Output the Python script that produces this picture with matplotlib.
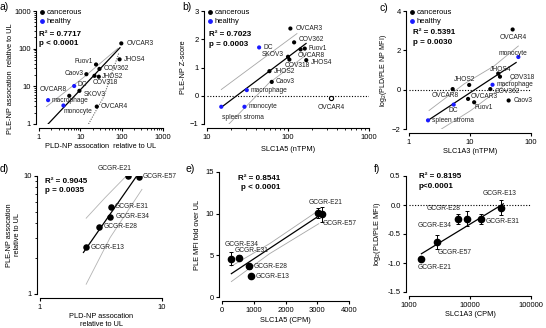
import matplotlib
matplotlib.use("Agg")
import matplotlib.pyplot as plt
from matplotlib.ticker import NullLocator, LogLocator, NullFormatter

plt.rcParams['font.family'] = ['Liberation Sans', 'DejaVu Sans']
plt.rcParams['mathtext.default'] = 'regular'
plt.rcParams['font.size'] = 5.5

# ---- panel a: PLD-NP vs PLE-NP association (cell lines) ----
a_names = ["OVCAR3", "JHOS4", "Fuov1", "COV362", "Caov3", "COV318", "JHOS2",
           "DC", "SKOV3", "OVCAR8", "macrophage", "monocyte", "OVCAR4"]
a_x = [98, 89, 24, 29, 14, 22, 28, 7.1, 9.5, 5.4, 1.66, 3.9, 25]
a_y = [138, 52, 38, 29, 21, 19, 18, 10.2, 7.6, 5.6, 4.3, 3.1, 2.9]
a_healthy = [False, False, False, False, False, False, False, True, False, False, True, True, False]
a_fit_x = [1.66, 91]
a_fit_y = [1.0, 106]
a_up_x = [1.51, 12, 81]
a_up_y = [2.89, 17.3, 102]
a_lo_x = [15.8, 36.9, 86]
a_lo_y = [1.0, 5.3, 78]

# ---- panel b: SLC1A5 vs PLE-NP Z-score ----
b_names = ["OVCAR3", "COV362", "Fuov1", "OVCAR8", "DC", "SKOV3", "COV318", "JHOS4",
           "JHOS2", "Caov3", "macrophage", "OVCAR4", "spleen stroma", "monocyte"]
b_x = [107, 119, 161, 143, 44, 100, 104, 168, 59, 63, 31, 339, 15, 29]
b_y = [2.38, 1.89, 1.67, 1.64, 1.71, 1.38, 1.28, 1.26, 0.87, 0.49, 0.20, -0.09, -0.39, -0.39]
b_healthy = [False, False, False, False, True, False, False, False, False, False, True, False, True, True]
b_fit_x = [15, 167]
b_fit_y = [-0.41, 1.85]
b_up_x = [15, 43.4, 129]
b_up_y = [0.22, 1.2, 2.2]
b_lo_x = [18.5, 57.7, 176]
b_lo_y = [-1.01, 0.44, 1.49]

# ---- panel c: SLC1A3 vs log2(PLD/PLE) ----
c_names = ["OVCAR4", "monocyte", "JHOS4", "COV318", "JHOS2", "macrophage", "OVCAR8",
           "COV362", "OVCAR3", "Fuov1", "Caov3", "DC", "spleen stroma"]
c_x = [50, 62, 29, 31, 9.7, 23.4, 5.2, 21.5, 9.3, 11.7, 43, 5.4, 2.05]
c_y = [3.06, 1.66, 0.82, 0.66, 0.24, 0.25, 0.03, 0.03, -0.47, -0.64, -0.55, -0.76, -1.56]
c_healthy = [False, True, False, False, False, True, False, False, False, False, False, True, True]
c_fit_x = [2.05, 57]
c_fit_y = [-1.56, 1.38]
c_up_x = [2.13, 8.0, 25, 62]
c_up_y = [-1.06, 0.29, 1.21, 2.22]
c_lo_x = [3.4, 10.3, 28, 62]
c_lo_y = [-2.0, -1.06, -0.05, 0.76]

# ---- panel d/e/f: GCGR lines ----
d_names = ["GCGR-E21", "GCGR-E57", "GCGR-E31", "GCGR-E34", "GCGR-E28", "GCGR-E13"]
d_x = [5.25, 6.43, 3.81, 3.76, 3.07, 2.39]
d_y = [10.0, 9.9, 5.5, 4.53, 3.71, 2.48]
d_fit_x = [2.27, 6.15]
d_fit_y = [2.25, 9.87]
d_up_x = [2.39, 3.42, 5.0]
d_up_y = [4.39, 6.56, 9.8]
d_lo_x = [2.39, 3.76, 6.85]
d_lo_y = [1.21, 3.01, 7.7]

e_names = ["GCGR-E21", "GCGR-E57", "GCGR-E34", "GCGR-E31", "GCGR-E28", "GCGR-E13"]
e_x = [3028, 3155, 284, 536, 842, 915]
e_y = [10.13, 9.93, 4.6, 4.73, 3.68, 2.48]
e_err = [0.6, 0.9, 0.75, 0.3, 0.3, 0.2]
e_fit_x = [295, 3050]
e_fit_y = [2.8, 9.73]
e_up_x = [295, 1500, 3050]
e_up_y = [3.7, 6.4, 10.4]
e_lo_x = [295, 1500, 3050]
e_lo_y = [1.85, 5.2, 8.8]

f_names = ["GCGR-E13", "GCGR-E31", "GCGR-E28", "GCGR-E34", "GCGR-E57", "GCGR-E21"]
f_x = [32600, 15000, 9040, 6350, 2910, 1600]
f_y = [-0.05, -0.24, -0.24, -0.24, -0.63, -0.93]
f_err = [0.13, 0.09, 0.13, 0.09, 0.12, 0.04]
f_fit_x = [1600, 35200]
f_fit_y = [-0.84, 0.02]

W, H = 546, 328
LAB = 5.3
fig = plt.figure(figsize=(W / 100, H / 100), dpi=100)


def add_ax(x0, x1, ytop, ybot):
    ax = fig.add_axes([x0 / W, (H - ybot) / H, (x1 - x0) / W, (ybot - ytop) / H])
    for s in ['top', 'right']:
        ax.spines[s].set_visible(False)
    ax.spines['left'].set_position(('outward', 2))
    ax.spines['bottom'].set_position(('outward', 3))
    for s in ['left', 'bottom']:
        ax.spines[s].set_linewidth(0.8)
    ax.tick_params(width=0.8, length=2.5, labelsize=5.5, pad=1.5)
    ax.tick_params(which='minor', width=0.6, length=1.5)
    return ax


def ftext(x, y, s, **kw):
    fig.text(x / W, 1 - y / H, s, va='center', **kw)


def labels(ax, xs, ys, names, offs, size=4.8):
    for x, y, n, (dx, dy, ha) in zip(xs, ys, names, offs):
        ax.annotate(n, (x, y), xytext=(dx * 0.72, dy * 0.72), textcoords='offset points',
                    ha=ha, va='center', fontsize=size, color='#222222')


def legend(ax):
    h1 = ax.scatter([], [], s=6, color='black', label='cancerous')
    h2 = ax.scatter([], [], s=6, color='#1a1aff', label='healthy')
    ax.legend(handles=[h1, h2], loc='upper left', frameon=False, fontsize=5.5,
              handlelength=0.6, handletextpad=0.3, borderaxespad=0.0,
              borderpad=0.1, labelspacing=0.3, bbox_to_anchor=(0.0, 1.03))


def dots(ax, xs, ys, healthy):
    cols = ['#1a1aff' if h else 'black' for h in healthy]
    ax.scatter(xs, ys, s=9, c=cols, zorder=3, linewidths=0)


def log_minor(axis):
    axis.set_minor_locator(LogLocator(subs=range(2, 10)))
    axis.set_minor_formatter(NullFormatter())


# ---------- a ----------
ax = add_ax(39, 163, 11, 124)
ax.set_xscale('log'); ax.set_yscale('log')
ax.set_xlim(1, 1000); ax.set_ylim(1, 1000)
ax.set_xticks([1, 10, 100, 1000], ['1', '10', '100', '1000'])
ax.set_yticks([1, 10, 100, 1000], ['1', '10', '100', '1000'])
log_minor(ax.xaxis); log_minor(ax.yaxis)
ax.plot(a_up_x, a_up_y, color='0.65', lw=0.6)
ax.plot(a_lo_x, a_lo_y, color='0.4', lw=0.8, ls=(0, (1, 1.2)))
ax.plot(a_fit_x, a_fit_y, color='black', lw=0.9)
dots(ax, a_x, a_y, a_healthy)
labels(ax, a_x, a_y, a_names, [
    (5, 0, 'left'), (4, 0, 'left'), (-3, 3, 'right'), (4, 0, 'left'), (-3, 1, 'right'),
    (-2, -7, 'left'), (3, 0, 'left'), (3, 2, 'left'), (4, -4, 'left'), (-3, 6, 'right'),
    (3, 0, 'left'), (0, -6, 'left'), (4, 0, 'left')])
ax.set_xlabel('PLD-NP assocation  relative to UL', fontsize=LAB, labelpad=2)
ax.set_ylabel('PLE-NP assocation  relative to UL', fontsize=LAB)
ax.yaxis.set_label_coords(-0.2, 0.4)
legend(ax)
ftext(39, 34, 'R² = 0.7717', fontsize=5.8, fontweight='bold')
ftext(39, 43.5, 'p < 0.0001', fontsize=5.8, fontweight='bold')
ftext(0, 7, 'a)', fontsize=7.5)

# ---------- b ----------
ax = add_ax(207, 369, 11, 124)
ax.set_xscale('log')
ax.set_xlim(10, 1000); ax.set_ylim(-1, 3)
ax.set_xticks([10, 100, 1000], ['10', '100', '1000'])
log_minor(ax.xaxis)
ax.set_yticks([-1, 0, 1, 2, 3])
ax.axhline(0, color='black', lw=0.8, ls=(0, (1, 1.5)))
ax.plot(b_up_x, b_up_y, color='0.65', lw=0.6)
ax.plot(b_lo_x, b_lo_y, color='0.65', lw=0.6)
ax.plot(b_fit_x, b_fit_y, color='black', lw=0.9)
dots(ax, b_x[:11], b_y[:11], b_healthy[:11])
dots(ax, b_x[12:], b_y[12:], b_healthy[12:])
ax.scatter(b_x[11:12], b_y[11:12], s=9, facecolor='white', edgecolor='black', linewidths=0.8, zorder=3)
labels(ax, b_x, b_y, b_names, [
    (5, 0, 'left'), (5, 3, 'left'), (4, 0, 'left'), (-3, -6, 'left'), (4, 0, 'left'),
    (-4, 2, 'right'), (-5, -6, 'left'), (5, -2.5, 'left'), (4, 0, 'left'), (4, 0, 'left'),
    (4, 0, 'left'), (0, -9, 'center'), (1, -11, 'left'), (4, 0, 'left')])
ax.set_xlabel('SLC1A5 (nTPM)', fontsize=LAB, labelpad=4)
ax.set_ylabel('PLE-NP Z-score', fontsize=LAB, labelpad=2)
legend(ax)
ftext(209, 35, 'R² = 0.7023', fontsize=5.8, fontweight='bold')
ftext(209, 44.5, 'p = 0.0003', fontsize=5.8, fontweight='bold')
ftext(182, 7, 'b)', fontsize=7.5)

# ---------- c ----------
ax = add_ax(409, 531, 11, 129)
ax.set_xscale('log')
ax.set_xlim(1, 100); ax.set_ylim(-2, 4)
ax.set_xticks([1, 10, 100], ['1', '10', '100'])
ax.xaxis.set_minor_locator(NullLocator())
ax.set_yticks([-2, 0, 2, 4])
ax.axhline(0, color='black', lw=0.8, ls=(0, (1, 1.5)))
ax.plot(c_up_x, c_up_y, color='0.65', lw=0.6)
ax.plot(c_lo_x, c_lo_y, color='0.65', lw=0.6)
ax.plot(c_fit_x, c_fit_y, color='black', lw=0.9)
dots(ax, c_x, c_y, c_healthy)
labels(ax, c_x, c_y, c_names, [
    (1, -8, 'center'), (-5, 4, 'center'), (2, 4, 'center'), (10, -1, 'left'), (-5, 5, 'center'),
    (4, 0, 'left'), (-7, -6, 'center'), (4, -2, 'left'), (3, 2, 'left'), (0, -5, 'left'),
    (5, 0, 'left'), (0, -6, 'center'), (4, 0, 'left')])
ax.set_xlabel('SLC1A3 (nTPM)', fontsize=LAB, labelpad=2)
ax.set_ylabel('log$_2$(PLD/PLE NP MFI)', fontsize=LAB - 0.3)
ax.yaxis.set_label_coords(-0.16, 0.5)
legend(ax)
ftext(413, 33, 'R² = 0.5391', fontsize=5.8, fontweight='bold')
ftext(413, 42.5, 'p = 0.0030', fontsize=5.8, fontweight='bold')
ftext(380, 8, 'c)', fontsize=7.5)

# ---------- d ----------
ax = add_ax(40, 162, 176, 294)
ax.set_xscale('log'); ax.set_yscale('log')
ax.set_xlim(1, 10); ax.set_ylim(1, 10)
ax.set_xticks([1, 10], ['1', '10'])
ax.set_yticks([1, 10], ['1', '10'])
ax.xaxis.set_minor_locator(NullLocator())
log_minor(ax.yaxis)
ax.plot(d_up_x, d_up_y, color='0.7', lw=0.6)
ax.plot(d_lo_x, d_lo_y, color='0.7', lw=0.6)
ax.plot(d_fit_x, d_fit_y, color='black', lw=0.9)
ax.scatter(d_x, d_y, s=22, color='black', zorder=3, linewidths=0)
labels(ax, d_x, d_y, d_names, [
    (-13, 8, 'center'), (4, 0, 'left'), (4, 0, 'left'), (5, 0, 'left'), (4, 0, 'left'), (4, 0, 'left')])
ax.set_xlabel('PLD-NP assocation\nrelative to UL', fontsize=LAB, labelpad=2)
ax.set_ylabel('PLE-NP assocation\nrelative to UL', fontsize=LAB, labelpad=2)
ftext(45, 181, 'R² = 0.9045', fontsize=5.8, fontweight='bold')
ftext(45, 190.5, 'p = 0.0035', fontsize=5.8, fontweight='bold')
ftext(0, 169, 'd)', fontsize=7.5)

# ---------- e ----------
ax = add_ax(222, 349, 172, 297)
ax.set_xlim(0, 4000); ax.set_ylim(0, 15)
ax.set_xticks([0, 1000, 2000, 3000, 4000])
ax.set_yticks([0, 5, 10, 15])
ax.plot(e_up_x, e_up_y, color='0.65', lw=0.6)
ax.plot(e_lo_x, e_lo_y, color='0.65', lw=0.6)
ax.plot(e_fit_x, e_fit_y, color='black', lw=0.9)
ax.errorbar(e_x, e_y, yerr=e_err, fmt='o', ms=4.5, color='black', ecolor='black',
            elinewidth=0.7, capsize=1.5, capthick=0.7, zorder=3)
labels(ax, e_x, e_y, e_names, [
    (7, 10, 'center'), (0, -9, 'left'), (-6, 14, 'left'), (-4, 7, 'left'), (5, 0, 'left'), (5, 0, 'left')])
ax.set_xlabel('SLC1A5 (CPM)', fontsize=LAB, labelpad=2)
ax.set_ylabel('PLE MFI fold over UL', fontsize=LAB, labelpad=3)
ftext(238, 178, 'R² = 0.8541', fontsize=5.8, fontweight='bold')
ftext(241, 187.5, 'p < 0.0001', fontsize=5.8, fontweight='bold')
ftext(185, 169, 'e)', fontsize=7.5)

# ---------- f ----------
ax = add_ax(409, 531, 176, 292)
ax.set_xscale('log')
ax.set_xlim(1000, 100000); ax.set_ylim(-1.5, 0.5)
ax.set_xticks([1000, 10000, 100000], ['1000', '10000', '100000'])
ax.xaxis.set_minor_locator(NullLocator())
ax.set_yticks([-1.5, -1.0, -0.5, 0.0, 0.5], ['-1.5', '-1.0', '-0.5', '0.0', '0.5'])
ax.axhline(0, color='black', lw=0.8, ls=(0, (1, 1.5)))
ax.plot(f_fit_x, f_fit_y, color='black', lw=0.9)
ax.errorbar(f_x, f_y, yerr=f_err, fmt='o', ms=4.5, color='black', ecolor='black',
            elinewidth=0.7, capsize=1.5, capthick=0.7, zorder=3)
labels(ax, f_x, f_y, f_names, [
    (-2, 14, 'center'), (5, -3, 'left'), (-7, 10, 'right'), (-6, -7, 'right'), (0, -11, 'left'), (-4, -9, 'left')])
ax.set_xlabel('SLC1A3 (CPM)', fontsize=LAB, labelpad=2)
ax.set_ylabel('log$_2$(PLD/PLE MFI)', fontsize=LAB, labelpad=3)
ftext(419, 177, 'R² = 0.8195', fontsize=5.8, fontweight='bold')
ftext(419, 187, 'p<0.0001', fontsize=5.8, fontweight='bold')
ftext(374, 169, 'f)', fontsize=7.5)

fig.savefig('out.png', dpi=100)
